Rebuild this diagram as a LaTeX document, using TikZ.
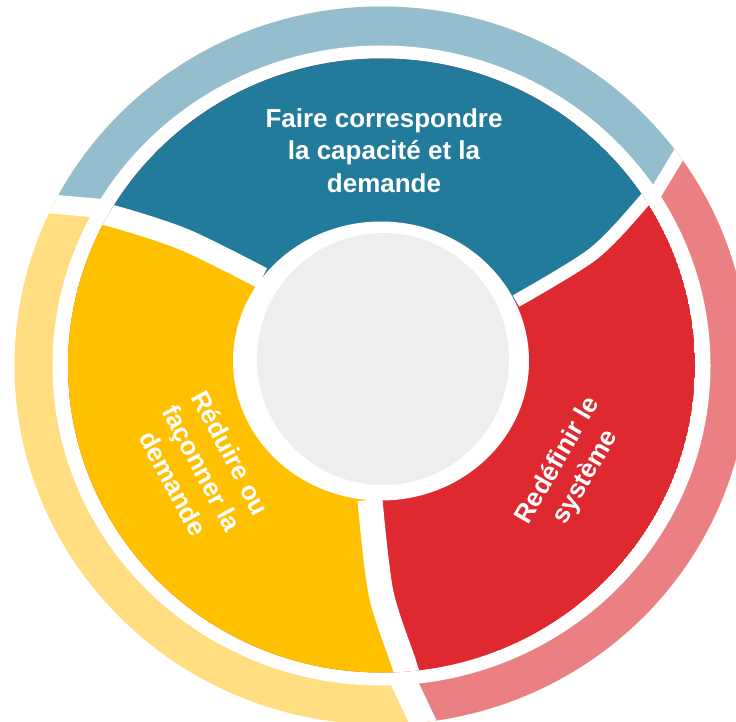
\documentclass[tikz,border=0pt]{standalone}
\usepackage{fontspec}
\setmainfont{Liberation Sans}
\definecolor{cteal}{RGB}{35,123,155}
\definecolor{cred}{RGB}{222,41,48}
\definecolor{cyellow}{RGB}{255,192,0}
\definecolor{clblue}{RGB}{148,190,206}
\definecolor{clyellow}{RGB}{255,221,128}
\definecolor{cpink}{RGB}{235,128,132}
\definecolor{cgrey}{RGB}{238,238,238}
\tikzset{
  gap/.style={white, line width=#1},
  label/.style={text=white, font=\bfseries\fontsize{26}{32.5}\selectfont, align=center, inner sep=0pt}
}
\begin{document}
\begin{tikzpicture}[x=1pt,y=-1pt]
\useasboundingbox (0,0) rectangle (736,722);
\coordinate (O) at (381.5,365.5);
\coordinate (G) at (383,359);
\coordinate (H) at (381,361);
% outer light ring
\begin{scope}
  \clip (O) ellipse [x radius=367, y radius=359];
  \fill[clyellow] (O) ellipse [x radius=367, y radius=359];
  \fill[clblue] (O) -- (140,212) -- (-60,194) -- (-60,-60) -- (790,-60) -- (760,20) -- (640,219) -- cycle;
  \fill[cpink] (O) -- (640,219) -- (760,20) -- (800,20) -- (800,800) -- (455,790) -- (385,642) -- cycle;
  \draw[gap=19] (-20,197.5) -- (140,212);
  \draw[gap=13] (640,219) -- (760,20);
  \draw[gap=26] (385,642) -- (455,790);
\end{scope}
\fill[white] (O) ellipse [x radius=329, y radius=320];
% main ring
\begin{scope}
  \clip (O) ellipse [x radius=313.5, y radius=307];
  \fill[cred] (O) ellipse [x radius=313.5, y radius=307];
  \fill[cteal] (O) -- plot[smooth] coordinates {(262,278) (183,239) (105,214) (50,203) (0,195)}
     -- (-10,-10) -- (750,-10)
     -- plot[smooth] coordinates {(700,120) (668,168) (643,202) (593,254) (516,301)} -- cycle;
  \fill[cyellow] (O) -- plot[smooth] coordinates {(262,278) (183,239) (105,214) (50,203) (0,195)}
     -- (-10,800)
     -- plot[smooth] coordinates {(430,745) (415,700) (404,664) (381,593) (370,500)} -- cycle;
  \draw[gap=22] plot[smooth] coordinates {(262,278) (183,239) (105,214) (50,203) (0,195)};
  \draw[gap=13] plot[smooth] coordinates {(516,301) (593,254) (643,202) (668,168) (700,120)};
  \draw[gap=25] plot[smooth] coordinates {(370,500) (381,593) (404,664) (415,700) (430,745)};
\end{scope}
% inner white and grey hub
\fill[white] (H) ellipse [x radius=148, y radius=139.5];
\fill[cgrey] (G) circle [radius=126];
% labels
\node[label] (t1) at (384,150.5) {Faire correspondre\\la capacité et la\\demande};
\node[label, rotate=-62] (t2) at (202,468) {Réduire ou\\façonner la\\demande};
\node[label, rotate=60] (t3) at (572,469) {Redéfinir le\\système};
\end{tikzpicture}
\end{document}
